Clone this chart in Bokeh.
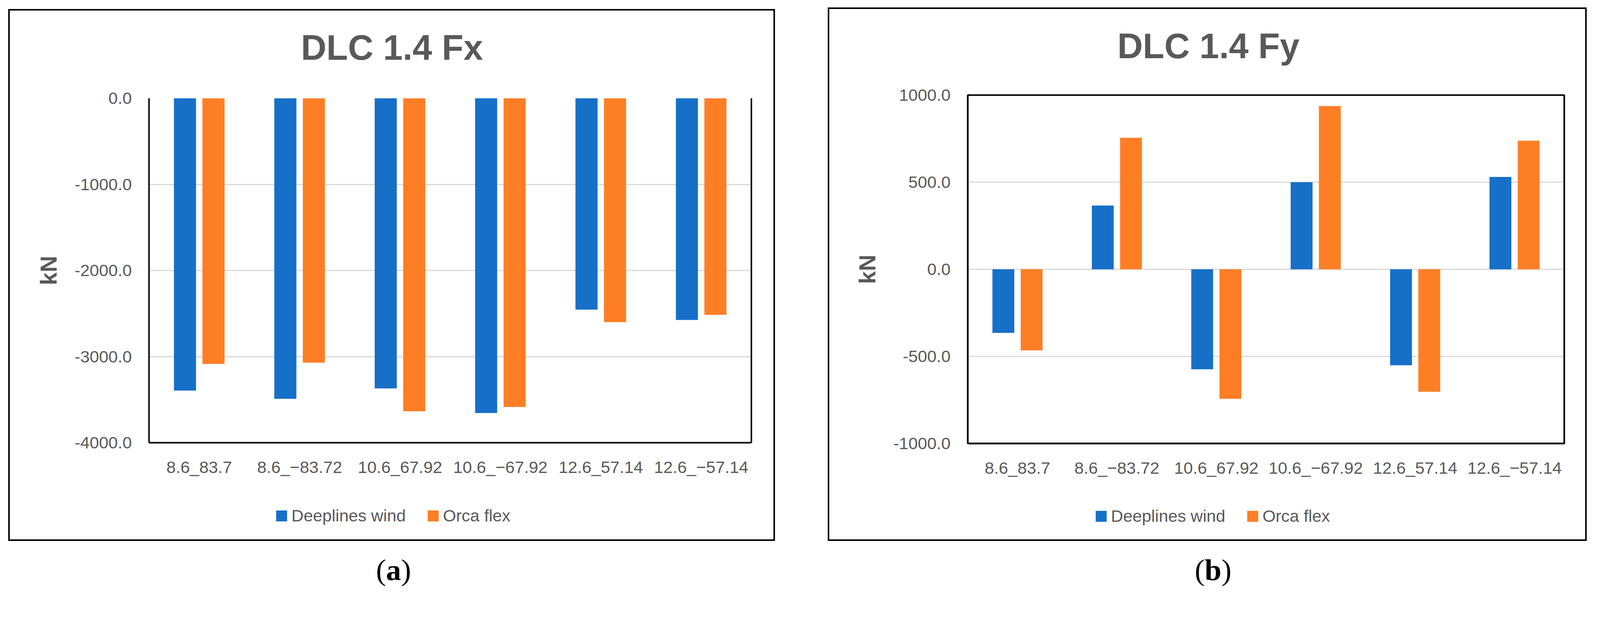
from bokeh.plotting import figure
from bokeh.models import (ColumnDataSource, FactorRange, Range1d, FixedTicker, PrintfTickFormatter,
                          LinearAxis, Legend, LegendItem, Label, Div, Spacer)
from bokeh.layouts import row, column
from bokeh.transform import dodge
from bokeh.embed import file_html
from bokeh.resources import INLINE

# ---------------- data ----------------
categories = ["8.6_83.7", "8.6_\u221283.72", "10.6_67.92", "10.6_\u221267.92",
              "12.6_57.14", "12.6_\u221257.14"]
series_names = ["Deeplines wind", "Orca flex"]
fx_deeplines = [-3395, -3490, -3370, -3655, -2455, -2575]
fx_orcaflex = [-3085, -3070, -3635, -3585, -2600, -2515]
fy_deeplines = [-365, 366, -574, 500, -551, 530]
fy_orcaflex = [-465, 755, -743, 937, -703, 738]
fx_ticks = [-4000, -3000, -2000, -1000, 0]
fy_ticks = [-1000, -500, 0, 500, 1000]
titles = ["DLC 1.4 Fx", "DLC 1.4 Fy"]
captions = ["a", "b"]

BLUE = "#1670C8"
ORANGE = "#FE7E25"
GREY_TXT = "#595959"
GRID = "#D9D9D9"
FONT = "Liberation Sans"

S = 4096 / 4270.0  # page css px per screenshot px


def fpx(v):
    return "%.1fpx" % (v * S)


def bare_fig(w, h, x_range=None, y_range=None):
    kw = {}
    if x_range is not None:
        kw["x_range"] = x_range
    if y_range is not None:
        kw["y_range"] = y_range
    p = figure(width=w, height=h, output_backend="svg", toolbar_location=None,
               x_axis_location=None, y_axis_location=None, min_border=0,
               background_fill_alpha=0, border_fill_alpha=0, **kw)
    p.outline_line_color = None
    p.grid.visible = False
    return p


def make_panel(blue, orange, ticks, title, width, h_title, h_chart, h_leg, mb,
               title_xy, legend_xy, full_outline):
    src = ColumnDataSource(dict(cat=categories, blue=blue, orange=orange))

    # ---- title ----
    pt = bare_fig(width, h_title)
    pt.add_layout(Label(x=title_xy[0], y=title_xy[1], x_units="screen", y_units="screen",
                        text=title, text_align="center", text_baseline="middle",
                        text_font=FONT, text_font_style="bold", text_font_size=fpx(94),
                        text_color=GREY_TXT))

    # ---- chart ----
    p = figure(x_range=FactorRange(factors=categories),
               y_range=Range1d(min(ticks), max(ticks)),
               width=width, height=h_chart, output_backend="svg", toolbar_location=None,
               min_border_left=mb[0], min_border_right=mb[1],
               min_border_top=mb[2], min_border_bottom=mb[3],
               background_fill_color="white", border_fill_alpha=0)
    p.vbar(x=dodge("cat", -0.142, range=p.x_range), top="blue", bottom=0, width=0.22,
           source=src, fill_color=BLUE, line_color=None)
    p.vbar(x=dodge("cat", 0.142, range=p.x_range), top="orange", bottom=0, width=0.22,
           source=src, fill_color=ORANGE, line_color=None)

    p.xgrid.grid_line_color = None
    p.ygrid.grid_line_color = GRID
    p.ygrid.grid_line_width = 3 * S

    yax = p.yaxis[0]
    yax.ticker = FixedTicker(ticks=ticks)
    yax.formatter = PrintfTickFormatter(format="%.1f")
    yax.major_label_text_font = FONT
    yax.major_label_text_font_size = fpx(45)
    yax.major_label_text_color = GREY_TXT
    yax.major_tick_line_color = None
    yax.minor_tick_line_color = None
    yax.major_tick_out = 0
    yax.major_label_standoff = round(46 * S)
    yax.axis_line_color = "black"
    yax.axis_line_width = 4 * S
    yax.axis_label = "kN"
    yax.axis_label_text_font = FONT
    yax.axis_label_text_font_style = "bold"
    yax.axis_label_text_font_size = fpx(61)
    yax.axis_label_text_color = GREY_TXT
    yax.axis_label_standoff = round(32 * S)

    xax = p.xaxis[0]
    xax.major_label_text_font = FONT
    xax.major_label_text_font_size = fpx(45)
    xax.major_label_text_color = GREY_TXT
    xax.major_tick_line_color = None
    xax.major_tick_out = 0
    xax.major_label_standoff = round(40 * S)
    xax.axis_line_color = "black"
    xax.axis_line_width = 4 * S

    rax = LinearAxis(ticker=FixedTicker(ticks=[]), axis_line_color="black", axis_line_width=4 * S,
                     major_tick_line_color=None, minor_tick_line_color=None,
                     major_label_text_font_size="0px")
    p.add_layout(rax, "right")

    if full_outline:
        p.outline_line_color = "black"
        p.outline_line_width = 4 * S
    else:
        p.outline_line_color = None

    # ---- legend (own strip; renderers carry the same data but are hidden) ----
    pl = bare_fig(width, h_leg, x_range=FactorRange(factors=categories),
                  y_range=Range1d(min(ticks), max(ticks)))
    r1 = pl.vbar(x="cat", top="blue", width=0.2, source=src, fill_color=BLUE, line_color=None)
    r2 = pl.vbar(x="cat", top="orange", width=0.2, source=src, fill_color=ORANGE, line_color=None)
    r1.visible = False
    r2.visible = False
    g = 35
    leg = Legend(items=[LegendItem(label=series_names[0], renderers=[r1]),
                        LegendItem(label=series_names[1], renderers=[r2])],
                 orientation="horizontal", location=legend_xy,
                 glyph_width=g, glyph_height=g, label_height=66,
                 label_standoff=8, spacing=52,
                 padding=0, margin=0, border_line_color=None, background_fill_alpha=0,
                 label_text_font=FONT, label_text_font_size=fpx(45),
                 label_text_baseline="alphabetic", label_text_color=GREY_TXT)
    pl.add_layout(leg, "center")

    return column(pt, p, pl, styles={"outline": "4px solid black", "outline-offset": "-4px"})


panel_a = make_panel(fx_deeplines, fx_orcaflex, fx_ticks, titles[0], 1963, 180, 1036, 146,
                     (360, 61, 48, 106), (622, 82), (322, 32), False)
panel_b = make_panel(fy_deeplines, fy_orcaflex, fy_ticks, titles[1], 1943, 184, 1036, 146,
                     (358, 58, 40, 104), (616, 86), (324, 31), True)


def caption(letter, width):
    return Div(text=('<div style="width:%dpx;text-align:center;font-family:\'Liberation Serif\';'
                     'font-size:77px;line-height:77px;color:black;">(<b>%s</b>)</div>') % (width, letter),
               width=width, height=80)


ca = caption(captions[0], 1963)
cb = caption(captions[1], 1943)

top_row = row(Spacer(width=21), column(Spacer(height=23), panel_a), Spacer(width=135),
              column(Spacer(height=19), panel_b))
cap_row = row(Spacer(width=21), ca, Spacer(width=135), cb)
layout = column(top_row, Spacer(height=31), cap_row)

open("out.html", "w").write(file_html(layout, INLINE))
